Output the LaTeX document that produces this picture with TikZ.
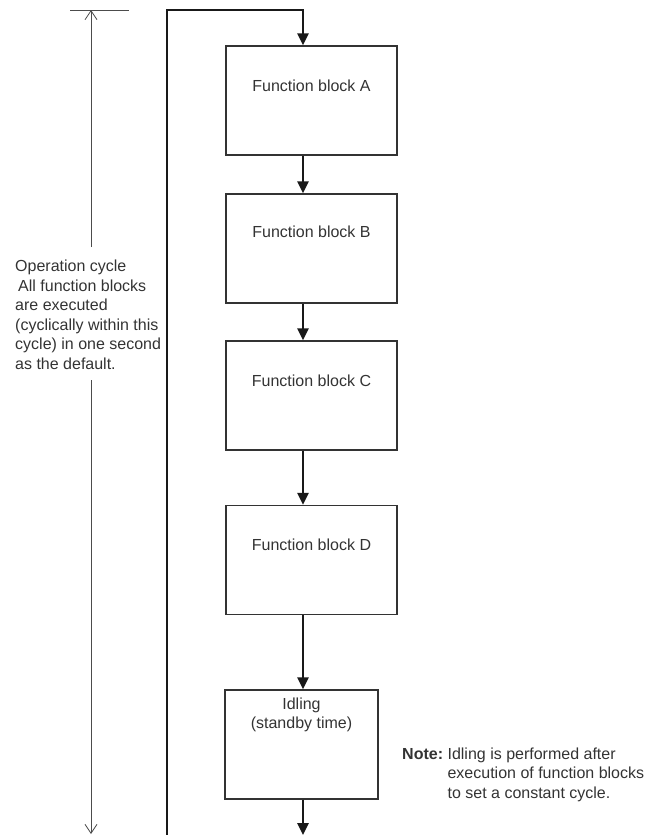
\documentclass[tikz,border=0pt]{standalone}
\usepackage{fontspec}
\setmainfont{Liberation Sans}
\usetikzlibrary{arrows.meta,positioning}

\begin{document}
\begin{tikzpicture}[
        x=1pt,
        y=-1pt,
        every node/.style={font=\fontsize{16}{19.5}\selectfont, text=black!80},
        fblock/.style={
            rectangle,
            draw=black!80,
            line width=1.3pt,
            minimum width=171pt,
            minimum height=109pt,
            inner sep=0pt
        },
        flow/.style={
            draw=black!90,
            line width=2.5pt,
            -{Triangle[length=12pt,width=11pt]}
        },
        dimline/.style={draw=black!70, line width=0.8pt},
        dimtip/.style={-{Straight Barb[length=9pt,width=12pt,line width=0.8pt]}}
    ]
    \useasboundingbox (0,0) rectangle (647,835);

    % Blocks
    \node[fblock] (fa) at (311.5,100.5) {};
    \node[fblock] (fb) at (311.5,248.5) {};
    \node[fblock] (fc) at (311.5,395.5) {};
    \node[fblock] (fd) at (311.5,560) {};
    \node[fblock, minimum width=153pt] (idle) at (301.5,744.5) {};

    \node (ta) at (311.5,86) {Function block A};
    \node (tb) at (311.5,232) {Function block B};
    \node (tc) at (311.5,381) {Function block C};
    \node (td) at (311.5,545) {Function block D};
    \node[align=center] (ti) at (301.5,715) {Idling\\(standby time)};

    % Flow
    \coordinate (ax) at (303,0);
    \coordinate (ltop) at (167,10);
    \coordinate (lbot) at (167,835);
    \coordinate (bot) at (303,835);
    \draw[flow] (lbot) -- (ltop) -| (fa.north -| ax);
    \draw[flow] (fa.south -| ax) -- (fb.north -| ax);
    \draw[flow] (fb.south -| ax) -- (fc.north -| ax);
    \draw[flow] (fc.south -| ax) -- (fd.north -| ax);
    \draw[flow] (fd.south -| ax) -- (idle.north -| ax);
    \draw[flow] (idle.south -| ax) -- (bot);

    % Operation cycle
    \node[align=left, anchor=west, inner sep=0pt] (cycle) at (15,315)
        {Operation cycle\\\hspace{3pt}All function blocks\\are executed\\(cyclically within this\\cycle) in one second\\as the default.};
    \coordinate (tickl) at (70,10);
    \coordinate (tickr) at (129,10);
    \coordinate (dtop) at (91,10);
    \coordinate (dbot) at (91,834);
    \coordinate (gapt) at (91,247);
    \coordinate (gapb) at (91,380);
    \draw[dimline] (tickl) -- (tickr);
    \draw[dimline, dimtip] (gapt) -- (dtop);
    \draw[dimline, dimtip] (gapb) -- (dbot);

    % Note
    \node[anchor=west, inner sep=0pt] (note) at (402,775)
        {\begin{tabular}{@{}l@{\hspace{4.5pt}}l@{}}
        \textbf{Note:} & Idling is performed after\\
        & execution of function blocks\\
        & to set a constant cycle.
        \end{tabular}};

    \end{tikzpicture}
\end{document}
